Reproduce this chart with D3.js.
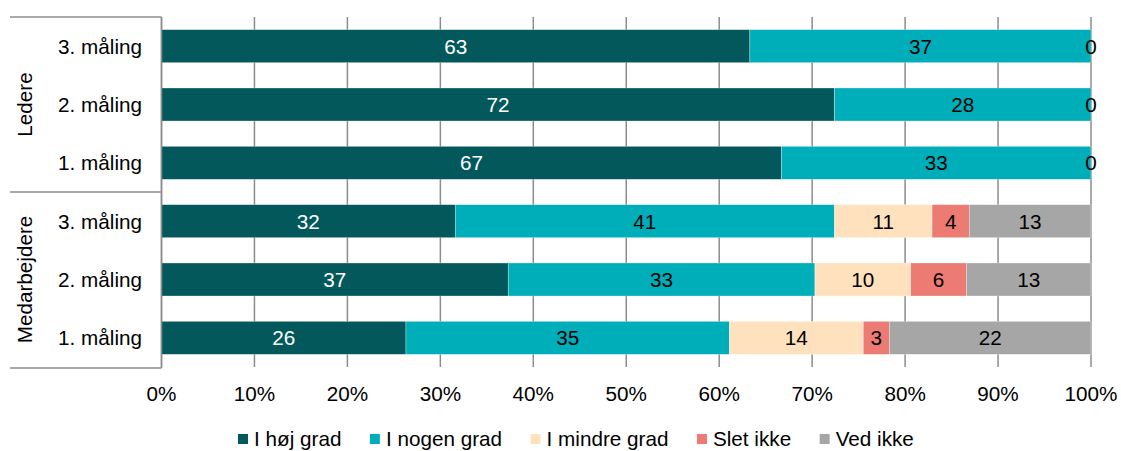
<!DOCTYPE html>
<html><head><meta charset="utf-8">
<script src="https://cdn.jsdelivr.net/npm/d3@7"></script>
<style>body{margin:0;background:#fff}svg{display:block;font-family:"Liberation Sans",Arial,sans-serif}</style>
</head><body>
<svg id="c" width="1121" height="451"></svg>
<script>
const categories = ["3. måling","2. måling","1. måling","3. måling","2. måling","1. måling"];
const groups = ["Ledere","Ledere","Ledere","Medarbejdere","Medarbejdere","Medarbejdere"];
const seriesNames = ["I høj grad","I nogen grad","I mindre grad","Slet ikke","Ved ikke"];
const hoejGrad   = [63.3, 72.4, 66.7, 31.6, 37.3, 26.3];
const nogenGrad  = [36.7, 27.6, 33.3, 40.8, 33.0, 34.8];
const mindreGrad = [null, null, null, 10.5, 10.3, 14.4];
const sletIkke   = [null, null, null, 4.0, 6.0, 2.8];
const vedIkke    = [0, 0, 0, 13.1, 13.4, 21.7];
const ticks = [0,10,20,30,40,50,60,70,80,90,100];
const colors = ["#03585C","#00AEB9","#FFE2BD","#EC7B73","#A6A6A6"];
const labelColors = ["#fff","#000","#000","#000","#000"];

const svg = d3.select("#c");
const FS = 20.7;
const x = d3.scaleLinear().domain([0,100]).range([161.5,1091]);
const rows = d3.range(categories.length);
const y = d3.scaleBand().domain(rows).range([17,367]).paddingInner(0.434).paddingOuter(0.217);
const gridCol = "#8c8c8c";

// gridlines
svg.append("g").selectAll("line").data(ticks).join("line")
  .attr("x1",d=>x(d)).attr("x2",d=>x(d)).attr("y1",17).attr("y2",367)
  .attr("stroke",gridCol).attr("stroke-width",1.5);

// bars
const series = [hoejGrad,nogenGrad,mindreGrad,sletIkke,vedIkke];
const stacked = rows.map(i=>{
  let acc=0; return series.map((s,k)=>{const v=s[i]; const st=acc; acc+= (v||0); return {i,k,v,st,en:acc};});
});
const segs = stacked.flat();
svg.append("g").selectAll("rect").data(segs.filter(d=>d.v)).join("rect")
  .attr("x",d=>x(d.st)).attr("width",d=>x(d.en)-x(d.st))
  .attr("y",d=>y(d.i)).attr("height",y.bandwidth())
  .attr("fill",d=>colors[d.k]).attr("stroke","#fff").attr("stroke-width",0.5).attr("stroke-opacity",0.6);

svg.append("g").selectAll("text").data(segs.filter(d=>d.v!==null)).join("text")
  .attr("x",d=>x((d.st+d.en)/2)).attr("y",d=>y(d.i)+y.bandwidth()/2)
  .attr("dy","0.36em").attr("text-anchor","middle").attr("font-size",FS)
  .attr("fill",d=>labelColors[d.k]).text(d=>Math.round(d.v));

// left axis
const ax = svg.append("g").attr("stroke",gridCol).attr("stroke-width",1.5);
ax.append("line").attr("x1",x(0)).attr("x2",x(0)).attr("y1",17).attr("y2",368);
[17, (y(2)+y.bandwidth()+y(3))/2, 368].forEach(v=>{
  ax.append("line").attr("x1",10).attr("x2",x(0)).attr("y1",v).attr("y2",v);
});
svg.append("g").selectAll("text").data(rows).join("text")
  .attr("x",142).attr("y",i=>y(i)+y.bandwidth()/2).attr("dy","0.36em")
  .attr("text-anchor","end").attr("font-size",FS).attr("fill","#000").text(i=>categories[i]);
const grpNames = Array.from(new Set(groups));
grpNames.forEach(g=>{
  const idx = rows.filter(i=>groups[i]===g);
  const cy = (y(idx[0]) + y(idx[idx.length-1]) + y.bandwidth())/2;
  svg.append("text").attr("transform",`translate(25,${cy}) rotate(-90)`).attr("dy","0.36em")
    .attr("text-anchor","middle").attr("font-size",FS).text(g);
});

// x axis tick labels
svg.append("g").selectAll("text").data(ticks).join("text")
  .attr("x",d=>x(d)).attr("y",394).attr("dy","0.36em").attr("text-anchor","middle")
  .attr("font-size",FS).text(d=>d+"%");

// legend
const lg = svg.append("g");
let cx = 238;
seriesNames.forEach((n,k)=>{
  const g = lg.append("g").attr("transform",`translate(${cx},439)`);
  g.append("rect").attr("x",0).attr("y",-5).attr("width",10).attr("height",10).attr("fill",colors[k]);
  const t = g.append("text").attr("x",16).attr("dy","0.36em").attr("font-size",FS).text(n);
  cx += 16 + t.node().getComputedTextLength() + 28.5;
});
</script>
</body></html>
